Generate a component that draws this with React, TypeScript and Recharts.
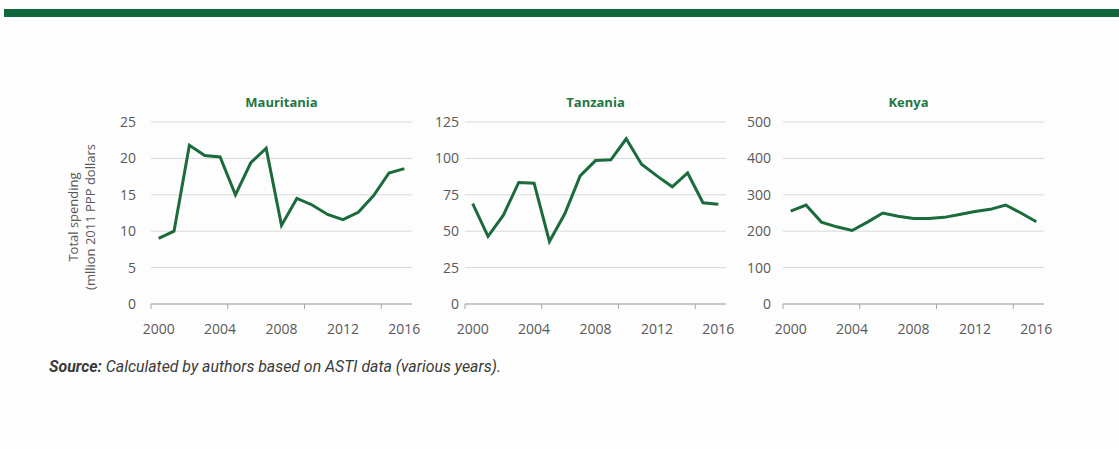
import React from 'react';
import { LineChart, Line, XAxis, YAxis, CartesianGrid } from 'recharts';

const years = [2000, 2001, 2002, 2003, 2004, 2005, 2006, 2007, 2008, 2009, 2010, 2011, 2012, 2013, 2014, 2015, 2016];
const mauritaniaValues = [9.0, 10.0, 21.8, 20.4, 20.2, 15.0, 19.4, 21.4, 10.8, 14.5, 13.6, 12.3, 11.6, 12.6, 14.9, 18.0, 18.6];
const tanzaniaValues = [69, 46.5, 61, 83.5, 83, 43, 62, 88, 98.5, 99, 113.5, 96, 88, 80.5, 90, 69.5, 68.5];
const kenyaValues = [255, 272, 225, 212, 202, 225, 250, 241, 235, 235, 238, 246, 254, 260, 272, 250, 226];

const xTickLabels = [2000, 2004, 2008, 2012, 2016];
const xTickMarks = [1999.5, 2004.5, 2009.5, 2014.5];
const mauritaniaTicks = [0, 5, 10, 15, 20, 25];
const tanzaniaTicks = [0, 25, 50, 75, 100, 125];
const kenyaTicks = [0, 100, 200, 300, 400, 500];

const yAxisTitle = ['Total spending', '(mllion 2011 PPP dollars'];
const sourceLabel = 'Source:';
const sourceText = ' Calculated by authors based on ASTI data (various years).';

const GREEN_LINE = '#1b6b3c';
const GREEN_TITLE = '#1f7744';
const GREEN_BAR = '#0f683b';
const TICK_GRAY = '#595959';
const X_TICK_MARGIN = 20;
const FONT = "'Open Sans', sans-serif";
const TICK_FONT_SIZE = 14;

const allXTicks = [...xTickMarks, ...xTickLabels].sort((a, b) => a - b);

const XTick = (props: any) => {
  const { x, y, payload } = props;
  const v = payload.value;
  if (!Number.isInteger(v)) {
    const ay = y - X_TICK_MARGIN;
    return <line x1={x} x2={x} y1={ay} y2={ay + 5} stroke="#a6a6a6" strokeWidth={1} />;
  }
  return (
    <text x={x} y={y} dy="0.71em" textAnchor="middle" fill={TICK_GRAY} fontSize={TICK_FONT_SIZE} fontFamily={FONT}>
      {v}
    </text>
  );
};

type PanelProps = {
  title: string;
  values: number[];
  yTicks: number[];
  plotLeft: number;
  yTickMargin: number;
  titleOffset?: number;
};

const PLOT_W = 261;
const Y_AXIS_W = 40;
const RIGHT_M = 25;

const Panel = ({ title, values, yTicks, plotLeft, yTickMargin, titleOffset = 0 }: PanelProps) => {
  const data = years.map((year, i) => ({ year, value: values[i] }));
  return (
    <>
      <div
        style={{
          position: 'absolute',
          left: plotLeft + titleOffset,
          top: 94,
          width: PLOT_W,
          textAlign: 'center',
          fontFamily: FONT,
          fontWeight: 700,
          fontSize: 13,
          lineHeight: '16px',
          color: GREEN_TITLE,
        }}
      >
        {title}
      </div>
      <div style={{ position: 'absolute', left: plotLeft - Y_AXIS_W, top: 112 }}>
        <LineChart
          width={Y_AXIS_W + PLOT_W + RIGHT_M}
          height={232}
          data={data}
          margin={{ top: 10, right: RIGHT_M, left: 0, bottom: 0 }}
        >
          <CartesianGrid vertical={false} stroke="#d9d9d9" strokeWidth={1} />
          <XAxis
            dataKey="year"
            type="number"
            domain={[1999.5, 2016.5]}
            ticks={allXTicks}
            interval={0}
            height={40}
            tickSize={0}
            tickMargin={X_TICK_MARGIN}
            tickLine={false}
            axisLine={{ stroke: '#a6a6a6', strokeWidth: 1 }}
            tick={<XTick />}
            allowDecimals
          />
          <YAxis
            width={Y_AXIS_W}
            domain={[yTicks[0], yTicks[yTicks.length - 1]]}
            ticks={yTicks}
            interval={0}
            axisLine={false}
            tickLine={false}
            tickSize={0}
            tickMargin={yTickMargin}
            tick={{ fill: TICK_GRAY, fontSize: TICK_FONT_SIZE, fontFamily: FONT }}
          />
          <Line
            type="linear"
            dataKey="value"
            stroke={GREEN_LINE}
            strokeWidth={3}
            dot={false}
            activeDot={false}
            isAnimationActive={false}
            strokeLinejoin="miter"
          />
        </LineChart>
      </div>
    </>
  );
};

export default function App() {
  return (
    <div
      style={{
        position: 'absolute',
        left: 0,
        top: 0,
        width: 1119,
        height: 449,
        background: '#fdfdfd',
        overflow: 'hidden',
      }}
    >
      <div style={{ position: 'absolute', left: 4, top: 9, width: 1115, height: 8, background: GREEN_BAR }} />
      <svg width={1119} height={449} style={{ position: 'absolute', left: 0, top: 0, pointerEvents: 'none' }}>
        <text transform="translate(78,217) rotate(-90)" textAnchor="middle" fill={TICK_GRAY} fontSize={13} fontFamily={FONT}>
          {yAxisTitle[0]}
        </text>
        <text transform="translate(95,217) rotate(-90)" textAnchor="middle" fill={TICK_GRAY} fontSize={13} fontFamily={FONT}>
          {yAxisTitle[1]}
        </text>
        <text
          x={49}
          y={372}
          fill="#3a3a3a"
          fontSize={17}
          fontFamily="Roboto, sans-serif"
          fontStyle="italic"
          textLength={452}
          lengthAdjust="spacingAndGlyphs"
        >
          <tspan fontWeight={700}>{sourceLabel}</tspan>
          <tspan>{sourceText}</tspan>
        </text>
      </svg>
      <Panel title="Mauritania" values={mauritaniaValues} yTicks={mauritaniaTicks} plotLeft={151} yTickMargin={15} />
      <Panel title="Tanzania" values={tanzaniaValues} yTicks={tanzaniaTicks} plotLeft={465} yTickMargin={6} />
      <Panel title="Kenya" values={kenyaValues} yTicks={kenyaTicks} plotLeft={783} yTickMargin={12} titleOffset={-5} />
    </div>
  );
}
